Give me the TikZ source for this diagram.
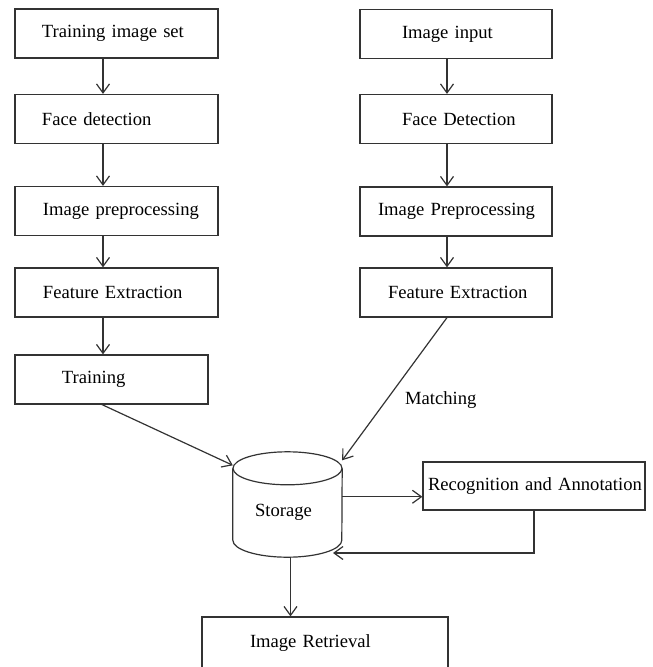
\documentclass[tikz,border=0pt]{standalone}
\usepackage{fontspec}
\setmainfont{Liberation Serif}
\usetikzlibrary{arrows.meta,calc}

\tikzset{
	stage/.style={draw=black!80, line width=1.2pt, inner xsep=0pt, inner ysep=0pt, minimum height=49pt, align=left},
	flow/.style={draw=black!80, line width=1.2pt, -{Straight Barb[length=9pt,width=13pt]}},
	tank/.style={draw=black!80, line width=1.2pt},
}

\begin{document}
\begin{tikzpicture}[x=1pt,y=1pt,yscale=-1,xscale=1,font=\fontsize{18.6}{22}\selectfont]
	\useasboundingbox (0,0) rectangle (653,667);
	
	% left column
	\node[stage, text width=203pt] (trainset) at (116.5,33.5) {\hspace*{27pt}Training image set};
	\node[stage, text width=203pt] (facedet) at (116.5,119) {\hspace*{27pt}Face detection};
	\node[stage, text width=203pt] (preproc) at (116.5,211) {\hspace*{28pt}Image preprocessing};
	\node[stage, text width=203pt] (featext) at (116.5,292.5) {\hspace*{28pt}Feature Extraction};
	\node[stage, text width=193pt] (training) at (111.5,379.5) {\hspace*{47pt}Training};
	
	% right column
	\node[stage, text width=192pt] (imginput) at (456,34) {\hspace*{42pt}Image input};
	\node[stage, text width=192pt] (facedetr) at (456,119) {\hspace*{42pt}Face Detection};
	\node[stage, text width=192pt] (preprocr) at (456,211.5) {\hspace*{18pt}Image Preprocessing};
	\node[stage, text width=192pt] (featextr) at (456,292.5) {\hspace*{28pt}Feature Extraction};
	
	% storage and outputs
	\node[minimum width=109pt, minimum height=88.5pt, inner sep=0pt] (storage) at (287.5,512.75) {\hspace*{-8pt}Storage};
	\draw[tank] (storage.north) ellipse [x radius=54.5, y radius=16.5];
	\draw[tank] (storage.north west) -- ($(storage.south west)+(0,-17)$)
		arc [start angle=180, end angle=0, x radius=54.5, y radius=17] -- (storage.north east);
	\node[stage, text width=222pt, minimum height=48pt] (recog) at (534,486) {\hspace*{5pt}Recognition and Annotation};
	\node[stage, text width=246pt, minimum height=53pt] (retrieval) at (325,643.5) {\hspace*{48pt}Image Retrieval};
	
	% left arrows
	\draw[flow] ([xshift=-13.5pt]trainset.south) -- ([xshift=-13.5pt]facedet.north);
	\draw[flow] ([xshift=-13.5pt]facedet.south) -- ([xshift=-13.5pt]preproc.north);
	\draw[flow] ([xshift=-13.5pt]preproc.south) -- ([xshift=-13.5pt]featext.north);
	\draw[flow] ([xshift=-13.5pt]featext.south) -- ([xshift=-8.5pt]training.north);
	\draw[flow] ([xshift=-9.5pt]training.south) -- ($(storage.north west)+(0,-3)$);
	
	% right arrows
	\draw[flow] ([xshift=-9pt]imginput.south) -- ([xshift=-9pt]facedetr.north);
	\draw[flow] ([xshift=-9pt]facedetr.south) -- ([xshift=-9pt]preprocr.north);
	\draw[flow] ([xshift=-9pt]preprocr.south) -- ([xshift=-9pt]featextr.north);
	\draw[flow] ([xshift=-9pt]featextr.south) -- node[pos=0.58, anchor=west, xshift=15pt] (matching) {Matching} ($(storage.north east)+(0,-8)$);
	
	% storage links
	\coordinate (sout) at ($(storage.east)+(0,-16)$);
	\coordinate (back) at (333,553);
	\draw[flow] (sout) -- (sout -| recog.west);
	\draw[flow] (recog.south) |- (back);
	\draw[flow] ([xshift=3pt]storage.south) -- ([xshift=3pt]storage.south |- retrieval.north);
\end{tikzpicture}
\end{document}
